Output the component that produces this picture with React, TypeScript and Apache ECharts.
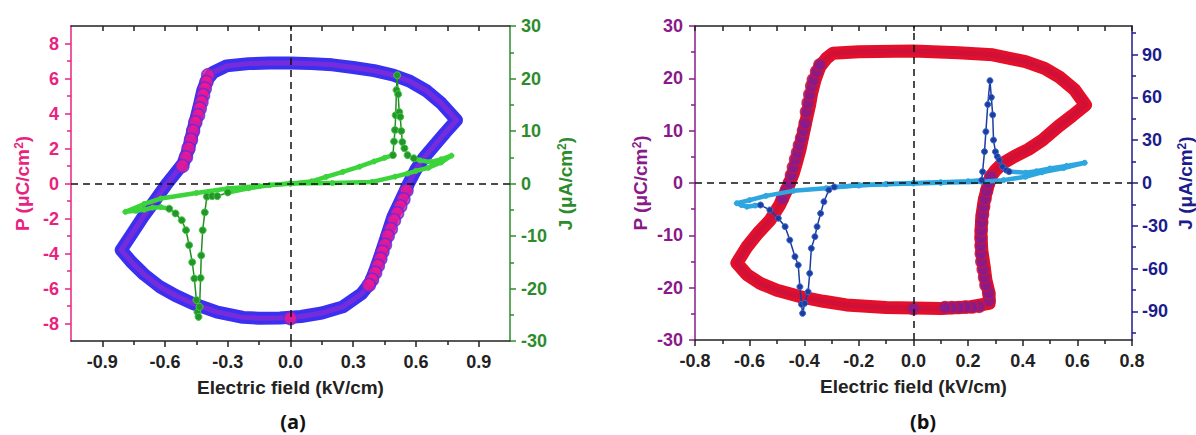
import React, { useEffect, useRef } from "react";
import * as echarts from "echarts";

// ---------- tick values ----------
const xTicksA = [-0.9, -0.6, -0.3, 0, 0.3, 0.6, 0.9];
const xMinorA = [-0.75, -0.45, -0.15, 0.15, 0.45, 0.75];
const pTicksA = [-8, -6, -4, -2, 0, 2, 4, 6, 8];
const pMinorA = [-7, -5, -3, -1, 1, 3, 5, 7];
const jTicksA = [-30, -20, -10, 0, 10, 20, 30];
const jMinorA = [-25, -15, -5, 5, 15, 25];

const xTicksB = [-0.8, -0.6, -0.4, -0.2, 0, 0.2, 0.4, 0.6, 0.8];
const xMinorB = [-0.7, -0.5, -0.3, -0.1, 0.1, 0.3, 0.5, 0.7];
const pTicksB = [-30, -20, -10, 0, 10, 20, 30];
const pMinorB = [-25, -15, -5, 5, 15, 25];
const jTicksB = [-90, -60, -30, 0, 30, 60, 90];
const jMinorB = [-105, -75, -45, -15, 15, 45, 75, 105];

// ---------- panel (a) data ----------
const pLoopA: [number, number][] = [
  [-0.81, -3.8], [-0.76, -2.9], [-0.705, -1.9], [-0.65, -1.0], [-0.593, -0.04], [-0.55, 0.6],
  [-0.514, 1.14], [-0.49, 1.9], [-0.466, 3.05], [-0.45, 3.8], [-0.434, 4.57], [-0.42, 5.3],
  [-0.4, 5.9], [-0.37, 6.35], [-0.306, 6.72], [-0.2, 6.85], [-0.1, 6.88], [0, 6.88],
  [0.1, 6.85], [0.2, 6.78], [0.3, 6.63], [0.4, 6.45], [0.49, 6.2], [0.57, 5.85],
  [0.65, 5.3], [0.72, 4.6], [0.794, 3.62], [0.74, 2.9], [0.69, 2.2], [0.64, 1.5],
  [0.6, 0.8], [0.565, 0.0], [0.53, -0.9], [0.49, -1.9], [0.46, -3.0], [0.427, -4.2],
  [0.4, -5.1], [0.38, -5.7], [0.34, -6.3], [0.25, -7.05], [0.15, -7.4], [0.05, -7.6],
  [-0.05, -7.68], [-0.15, -7.7], [-0.227, -7.65], [-0.35, -7.35], [-0.466, -6.86], [-0.55, -6.4],
  [-0.625, -5.9], [-0.7, -5.2], [-0.76, -4.5], [-0.81, -3.8],
];
const pSparseA: [number, number][] = [
  [-0.394, 6.19], [-0.402, 5.8], [-0.41, 5.43], [-0.418, 5.05], [-0.426, 4.66], [-0.434, 4.29],
  [-0.442, 3.9], [-0.455, 3.5], [-0.466, 3.0], [-0.476, 2.5], [-0.488, 2.0], [-0.5, 1.5], [-0.517, 1.0],
  [0.555, -0.4], [0.54, -0.9], [0.525, -1.3], [0.51, -1.7], [0.495, -2.1], [0.48, -2.6],
  [0.465, -3.0], [0.452, -3.5], [0.44, -3.9], [0.43, -4.3], [0.418, -4.7], [0.405, -5.1],
  [0.39, -5.5], [0.375, -5.8], [0, -7.7],
];
const jDenseA1: [number, number][] = [
  [0, 0], [0.1, 0.4], [0.17, 1.26], [0.25, 2.2], [0.33, 3.2], [0.4, 4.2], [0.45, 4.9], [0.49, 5.4],
];
const jSpikePosA: [number, number][] = [
  [0.49, 5.4], [0.495, 8], [0.5, 10.2], [0.503, 13], [0.507, 17.8], [0.51, 20.6], [0.515, 17],
  [0.52, 13.6], [0.525, 12.7], [0.53, 10], [0.535, 7.9], [0.545, 6.7], [0.56, 5.4], [0.59, 4.8],
];
const jDenseA2: [number, number][] = [
  [0.59, 4.8], [0.62, 4.4], [0.67, 4.1], [0.72, 4.6], [0.77, 5.3], [0.72, 4.0], [0.66, 3.0],
  [0.6, 2.4], [0.56, 1.9], [0.5, 1.3], [0.39, 0.3], [0.2, 0.1], [0, 0], [-0.15, -0.5],
  [-0.3, -0.95], [-0.45, -1.8], [-0.62, -2.86], [-0.7, -3.9], [-0.79, -5.4], [-0.74, -5.2],
  [-0.7, -5.0], [-0.66, -4.6], [-0.62, -4.5], [-0.58, -4.8],
];
const jSpikeNegA: [number, number][] = [
  [-0.58, -4.8], [-0.55, -5.7], [-0.52, -7.0], [-0.5, -8.9], [-0.485, -11.75], [-0.47, -15],
  [-0.46, -18.1], [-0.45, -22.2], [-0.445, -24.5], [-0.44, -25.4], [-0.435, -23.5], [-0.43, -18],
  [-0.427, -13.7], [-0.42, -8.9], [-0.41, -5.5], [-0.4, -2.5], [-0.375, -2.4], [-0.35, -2.4],
  [-0.3, -1.7],
];
const jDenseA3: [number, number][] = [
  [-0.3, -1.7], [-0.2, -0.9], [-0.1, -0.3], [0, 0],
];

// ---------- panel (b) data ----------
const pLoopB: [number, number][] = [
  [-0.647, -15.3], [-0.61, -12.2], [-0.57, -9.6], [-0.525, -7.1], [-0.49, -4.2], [-0.459, -0.7],
  [-0.44, 1.85], [-0.428, 4], [-0.416, 6.3], [-0.403, 9.5], [-0.39, 12.7], [-0.38, 15],
  [-0.373, 17.1], [-0.36, 19.8], [-0.343, 22.2], [-0.319, 23.8], [-0.295, 24.8], [-0.2, 25.1],
  [0, 25.2], [0.164, 24.9], [0.29, 24.5], [0.41, 23.2], [0.48, 21.9], [0.533, 20.3],
  [0.59, 17.8], [0.63, 14.9], [0.58, 12.8], [0.53, 10.8], [0.472, 8.2], [0.42, 6.4],
  [0.37, 5.1], [0.326, 3.76], [0.3, 2.4], [0.283, 1.2], [0.27, -1], [0.259, -3.25],
  [0.25, -6.4], [0.247, -9.6], [0.25, -12.8], [0.259, -16], [0.265, -18.5], [0.277, -21.1],
  [0.277, -23], [0.2, -23.7], [0.1, -24], [0, -23.9], [-0.1, -23.8], [-0.246, -23.3],
  [-0.33, -22.6], [-0.416, -21.7], [-0.5, -20.5], [-0.56, -19.2], [-0.61, -17.5], [-0.647, -15.3],
];
const pSparseB: [number, number][] = [
  [-0.48, -3], [-0.465, -1.3], [-0.455, 0], [-0.447, 1.5], [-0.44, 3], [-0.432, 4.5],
  [-0.425, 5.8], [-0.418, 7.2], [-0.41, 8.6], [-0.403, 10], [-0.397, 11.4], [-0.392, 13.6],
  [-0.386, 15.3], [-0.38, 16.9], [-0.373, 18.5], [-0.367, 19.7], [-0.355, 21.3], [-0.343, 22.6],
  [0.277, -22.5], [0.275, -21], [0.265, -19.5], [0.26, -18], [0.255, -16.5], [0.25, -15],
  [0.248, -13.5], [0.247, -12], [0.247, -10.5], [0.248, -9], [0.25, -7.5], [0.253, -6],
  [0.257, -4.5], [0.262, -3], [0.268, -1.5], [0.275, 0], [0.283, 1.2],
  [0.24, -23.6], [0.215, -23.7], [0.19, -23.7], [0.165, -23.8], [0.14, -23.8], [0.115, -23.8],
  [0, -24],
];
const jDenseB1: [number, number][] = [
  [0, 0], [0.1, 0.5], [0.2, 1.2], [0.25, 2.0],
];
const jSpikePosB: [number, number][] = [
  [0.25, 2.0], [0.253, 7.9], [0.26, 22], [0.265, 36], [0.272, 55], [0.28, 71.7], [0.285, 60],
  [0.29, 47.7], [0.293, 30.1], [0.3, 21.9], [0.307, 18.5], [0.314, 16.1], [0.326, 11.4],
  [0.34, 9], [0.35, 8],
];
const jDenseB2: [number, number][] = [
  [0.35, 8], [0.41, 7.2], [0.45, 8.2], [0.5, 10.2], [0.56, 12], [0.627, 14.2], [0.55, 10.5],
  [0.47, 7.5], [0.41, 4.4], [0.33, 2.0], [0.25, 0.9], [0.1, 0.1], [0, -0.3], [-0.1, -0.8],
  [-0.2, -1.4], [-0.32, -3.7], [-0.44, -5.5], [-0.54, -9], [-0.6, -12], [-0.647, -14.2],
  [-0.63, -15.5], [-0.61, -16.6], [-0.58, -15.8], [-0.56, -15.4],
];
const jSpikeNegB: [number, number][] = [
  [-0.56, -15.4], [-0.526, -18.9], [-0.495, -24.7], [-0.47, -30.6], [-0.453, -40], [-0.434, -51.6],
  [-0.422, -57.5], [-0.416, -72.7], [-0.41, -85], [-0.406, -91.3], [-0.398, -84.3], [-0.386, -76.2],
  [-0.38, -63.3], [-0.374, -45.8], [-0.361, -37.6], [-0.353, -30.6], [-0.34, -21.3], [-0.328, -13.1],
  [-0.31, -4.9], [-0.29, -2.8],
];
const jDenseB3: [number, number][] = [
  [-0.29, -2.8], [-0.2, -1.8], [-0.1, -0.7], [0, 0],
];

const FONT = "Liberation Sans, Arial, Helvetica, sans-serif";

type AxisOpts = {
  grid: number;
  pos: "left" | "right" | "top" | "bottom";
  min: number;
  max: number;
  ticks: number[];
  color: string;
  len: number;
  inside?: boolean;
  line?: boolean;
  labels?: boolean;
  dec?: number;
  labelMargin?: number;
  name?: string;
  nameGap?: number;
};

function makeAxis(o: AxisOpts): any {
  const isY = o.pos === "left" || o.pos === "right";
  const ax: any = {
    type: "value",
    gridIndex: o.grid,
    position: o.pos,
    min: o.min,
    max: o.max,
    splitLine: { show: false },
    axisLine: { show: !!o.line, onZero: false, lineStyle: { color: o.color, width: 1.5 } },
    axisTick: {
      show: true,
      inside: !!o.inside,
      length: o.len,
      customValues: o.ticks,
      lineStyle: { color: o.color, width: 1.5 },
    },
    axisLabel: {
      show: !!o.labels,
      customValues: o.ticks,
      margin: o.labelMargin ?? 10,
      color: o.color,
      fontFamily: FONT,
      fontWeight: "bold",
      fontSize: 18,
      formatter: (v: number) => (o.dec ? v.toFixed(o.dec) : String(Math.round(v))),
    },
  };
  if (o.name) {
    ax.name = o.name;
    ax.nameLocation = "middle";
    ax.nameGap = o.nameGap;
    if (isY) ax.nameRotate = 90;
    ax.nameTextStyle = {
      color: o.color,
      fontFamily: FONT,
      fontWeight: "bold",
      fontSize: 19,
      rich: {
        s: { color: o.color, fontFamily: FONT, fontWeight: "bold", fontSize: 12, verticalAlign: "top", lineHeight: 19 },
      },
    };
  }
  return ax;
}

const BLACK = "#222222";
const PINK = "#e8237f";
const GREEN = "#2c8c2c";
const PURPLE = "#8a1a8a";
const NAVY = "#1c1c8c";

function bandSeries(data: [number, number][], xi: number, yi: number, outer: string, inner: string) {
  return [
    {
      type: "line", xAxisIndex: xi, yAxisIndex: yi, data, symbol: "none", z: 2,
      lineStyle: { color: outer, width: 13, join: "round", cap: "round" },
    },
    {
      type: "line", xAxisIndex: xi, yAxisIndex: yi, data, symbol: "none", z: 2,
      lineStyle: { color: inner, width: 5, join: "round", cap: "round", opacity: 0.75 },
    },
  ];
}

function jLine(data: [number, number][], xi: number, yi: number, color: string, width: number, size: number, fill: string, border: string) {
  return {
    type: "line", xAxisIndex: xi, yAxisIndex: yi, data, z: 4,
    symbol: "circle", symbolSize: size, showSymbol: true,
    lineStyle: { color, width, join: "round", cap: "round" },
    itemStyle: { color: fill, borderColor: border, borderWidth: 1 },
  };
}

function zeroLines(xi: number, yi: number) {
  return {
    type: "line", xAxisIndex: xi, yAxisIndex: yi, data: [], z: 10, symbol: "none",
    markLine: {
      silent: true, symbol: ["none", "none"], label: { show: false }, animation: false,
      lineStyle: { color: "#111", type: [7, 5], width: 1.5 },
      data: [{ xAxis: 0 }, { yAxis: 0 }],
    },
  };
}

const PANEL_STYLE = {
  fill: "#111",
  fontFamily: "'Open Sans', 'Noto Sans', sans-serif",
  fontWeight: "bold",
  fontSize: 20,
  align: "center",
  verticalAlign: "middle",
};

export default function App() {
  const ref = useRef<HTMLDivElement>(null);
  useEffect(() => {
    document.body.style.margin = "0";
    const chart = echarts.init(ref.current!, null, { renderer: "svg" });
    const option: any = {
      animation: false,
      backgroundColor: "#ffffff",
      grid: [
        { left: 71, top: 26, width: 439, height: 315 },
        { left: 695, top: 26, width: 438, height: 314 },
      ],
      xAxis: [
        makeAxis({ grid: 0, pos: "bottom", min: -1.05, max: 1.05, ticks: xTicksA, color: BLACK, len: 6, line: true, labels: true, dec: 1, labelMargin: 12, name: "Electric field (kV/cm)", nameGap: 37 }),
        makeAxis({ grid: 0, pos: "bottom", min: -1.05, max: 1.05, ticks: xMinorA, color: BLACK, len: 4 }),
        makeAxis({ grid: 0, pos: "top", min: -1.05, max: 1.05, ticks: [...xTicksA, ...xMinorA], color: BLACK, len: 5, inside: true, line: true }),
        makeAxis({ grid: 1, pos: "bottom", min: -0.8, max: 0.8, ticks: xTicksB, color: BLACK, len: 6, line: true, labels: true, dec: 1, labelMargin: 12, name: "Electric field (kV/cm)", nameGap: 37 }),
        makeAxis({ grid: 1, pos: "bottom", min: -0.8, max: 0.8, ticks: xMinorB, color: BLACK, len: 4 }),
        makeAxis({ grid: 1, pos: "top", min: -0.8, max: 0.8, ticks: [...xTicksB, ...xMinorB], color: BLACK, len: 5, inside: true, line: true }),
      ],
      yAxis: [
        makeAxis({ grid: 0, pos: "left", min: -9, max: 9, ticks: pTicksA, color: PINK, len: 6, line: true, labels: true, labelMargin: 12, name: "P (μC/cm{s|2})", nameGap: 39 }),
        makeAxis({ grid: 0, pos: "left", min: -9, max: 9, ticks: pMinorA, color: PINK, len: 4 }),
        makeAxis({ grid: 0, pos: "right", min: -30, max: 30, ticks: jTicksA, color: GREEN, len: 6, line: true, labels: true, labelMargin: 11, name: "J (μA/cm{s|2})", nameGap: 46 }),
        makeAxis({ grid: 0, pos: "right", min: -30, max: 30, ticks: jMinorA, color: GREEN, len: 4 }),
        makeAxis({ grid: 1, pos: "left", min: -30, max: 30, ticks: pTicksB, color: PURPLE, len: 6, line: true, labels: true, labelMargin: 12, name: "P (μC/cm{s|2})", nameGap: 45 }),
        makeAxis({ grid: 1, pos: "left", min: -30, max: 30, ticks: pMinorB, color: PURPLE, len: 4 }),
        makeAxis({ grid: 1, pos: "right", min: -110, max: 110, ticks: jTicksB, color: NAVY, len: 6, line: true, labels: true, labelMargin: 10, name: "J (μA/cm{s|2})", nameGap: 44 }),
        makeAxis({ grid: 1, pos: "right", min: -110, max: 110, ticks: jMinorB, color: NAVY, len: 4 }),
      ],
      series: [
        // panel (a)
        ...bandSeries(pLoopA, 0, 0, "#3b30f0", "#8c2bd6"),
        {
          type: "scatter", xAxisIndex: 0, yAxisIndex: 0, data: pSparseA, z: 3,
          symbol: "circle", symbolSize: 13,
          itemStyle: { color: "#f5168c", borderColor: "#5a2ee0", borderWidth: 1.5 },
        },
        jLine(jDenseA1, 0, 2, "#3bd43b", 4.5, 5, "#3bd43b", "#3bd43b"),
        jLine(jDenseA2, 0, 2, "#3bd43b", 4.5, 5, "#3bd43b", "#3bd43b"),
        jLine(jDenseA3, 0, 2, "#3bd43b", 4.5, 5, "#3bd43b", "#3bd43b"),
        jLine(jSpikePosA, 0, 2, "#1f8f1f", 1.5, 7, "#23952a", "#45c845"),
        jLine(jSpikeNegA, 0, 2, "#1f8f1f", 1.5, 7, "#23952a", "#45c845"),
        zeroLines(0, 0),
        // panel (b)
        ...bandSeries(pLoopB, 3, 4, "#e3102c", "#c8103e"),
        {
          type: "scatter", xAxisIndex: 3, yAxisIndex: 4, data: pSparseB, z: 3,
          symbol: "circle", symbolSize: 12,
          itemStyle: { color: "#7e1c98", borderColor: "#c8163a", borderWidth: 1.5 },
        },
        jLine(jDenseB1, 3, 6, "#2ea6e0", 4.5, 5, "#2ea6e0", "#2ea6e0"),
        jLine(jDenseB2, 3, 6, "#2ea6e0", 4.5, 5, "#2ea6e0", "#2ea6e0"),
        jLine(jDenseB3, 3, 6, "#2ea6e0", 4.5, 5, "#2ea6e0", "#2ea6e0"),
        jLine(jSpikePosB, 3, 6, "#1c3c9e", 1.5, 6, "#1c3c9e", "#3a6ad0"),
        jLine(jSpikeNegB, 3, 6, "#1c3c9e", 1.5, 6, "#1c3c9e", "#3a6ad0"),
        zeroLines(3, 4),
      ],
      graphic: [
        { type: "text", x: 293, y: 421, style: { ...PANEL_STYLE, text: "(a)" } },
        { type: "text", x: 923, y: 421, style: { ...PANEL_STYLE, text: "(b)" } },
      ],
    };
    chart.setOption(option);
    return () => chart.dispose();
  }, []);
  return <div ref={ref} style={{ width: 1196, height: 435, position: "absolute", left: 0, top: 0 }} />;
}
